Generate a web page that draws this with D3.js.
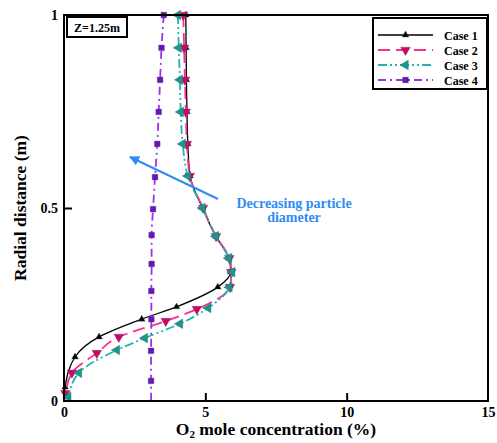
<!DOCTYPE html>
<html>
<head>
<script src="https://d3js.org/d3.v7.min.js"></script>
<style>
  body { margin: 0; background: #fff; }
  text { font-family: "Liberation Serif", "DejaVu Serif", serif; font-weight: bold; }
</style>
</head>
<body>
<svg id="chart" width="497" height="443"></svg>
<script>
// radial distance (m) and O2 concentration (%)
var case1R = [1, 0.915, 0.832, 0.749, 0.666, 0.583, 0.5, 0.427, 0.37, 0.334, 0.295, 0.244, 0.212, 0.166, 0.114, 0.036, 0];
var case1X = [4.31, 4.32, 4.33, 4.35, 4.38, 4.46, 4.9, 5.37, 5.83, 5.9, 5.44, 3.98, 2.75, 1.24, 0.39, 0.04, 0];

var case2R = [1, 0.915, 0.832, 0.749, 0.666, 0.583, 0.5, 0.427, 0.37, 0.334, 0.295, 0.238, 0.207, 0.166, 0.124, 0.073, 0.02, 0];
var case2X = [4.22, 4.25, 4.28, 4.31, 4.35, 4.45, 4.92, 5.38, 5.85, 5.92, 5.87, 4.7, 3.6, 1.94, 1.16, 0.28, 0.05, 0];

var case3R = [1, 0.915, 0.832, 0.749, 0.666, 0.583, 0.5, 0.427, 0.37, 0.334, 0.295, 0.241, 0.2, 0.163, 0.132, 0.073, 0.01];
var case3X = [4.03, 4.06, 4.1, 4.13, 4.2, 4.38, 4.9, 5.37, 5.83, 5.95, 5.85, 5.1, 4.1, 2.86, 1.87, 0.53, 0.15];

var case4R = [1, 0.915, 0.832, 0.749, 0.666, 0.58, 0.497, 0.43, 0.355, 0.285, 0.212, 0.13, 0.052, 0];
var case4X = [3.53, 3.45, 3.4, 3.35, 3.3, 3.22, 3.15, 3.1, 3.1, 3.09, 3.09, 3.08, 3.08, 3.08];

var caseNames = ["Case 1", "Case 2", "Case 3", "Case 4"];
var xTicks = [0, 5, 10, 15];
var yTicks = [0, 0.5, 1];

var svg = d3.select("#chart");
var mLeft = 64, mRight = 488, mTop = 15, mBottom = 401;

var x = d3.scaleLinear().domain([0, 15]).range([mLeft, mRight]);
var y = d3.scaleLinear().domain([0, 1]).range([mBottom, mTop]);

var series = [
  { name: caseNames[0], r: case1R, v: case1X, line: "#000", mark: "#000", dash: null, sym: "up", size: 20 },
  { name: caseNames[1], r: case2R, v: case2X, line: "#ff2d8f", mark: "#d6006b", dash: "12,6", sym: "down", size: 40 },
  { name: caseNames[2], r: case3R, v: case3X, line: "#22b5ad", mark: "#139a8e", dash: "9,3,2,3,2,3", sym: "left", size: 40 },
  { name: caseNames[3], r: case4R, v: case4X, line: "#9a33f0", mark: "#6a10c8", dash: "8,4,2,4", sym: "square", size: 32 }
];

function symbolPath(sym, size) {
  if (sym === "square") return d3.symbol().type(d3.symbolSquare).size(size)();
  return d3.symbol().type(d3.symbolTriangle).size(size)();
}
function symbolRotate(sym) {
  if (sym === "down") return 180;
  if (sym === "left") return -90;
  return 0;
}

var line = d3.line()
  .x(function(d) { return x(d[0]); })
  .y(function(d) { return y(d[1]); })
  .curve(d3.curveMonotoneY);

var plot = svg.append("g");

series.forEach(function(s) {
  var pts = s.v.map(function(v, i) { return [v, s.r[i]]; });
  plot.append("path")
    .attr("d", line(pts))
    .attr("fill", "none")
    .attr("stroke", s.line)
    .attr("stroke-width", s.dash ? 1.8 : 1.3)
    .attr("stroke-dasharray", s.dash);
  plot.selectAll(null)
    .data(pts.filter(function(d) { return d[1] > 0; }))
    .enter().append("path")
      .attr("d", symbolPath(s.sym, s.size))
      .attr("transform", function(d) { return "translate(" + x(d[0]) + "," + y(d[1]) + ") rotate(" + symbolRotate(s.sym) + ")"; })
      .attr("fill", s.mark)
      .attr("stroke", "#555")
      .attr("stroke-width", 0.4);
});

// frame and inward ticks
svg.append("rect")
  .attr("x", mLeft).attr("y", mTop)
  .attr("width", mRight - mLeft).attr("height", mBottom - mTop)
  .attr("fill", "none").attr("stroke", "#000").attr("stroke-width", 2);

var xAxis = svg.append("g").attr("transform", "translate(0," + mBottom + ")")
  .call(d3.axisBottom(x).tickValues(xTicks).tickSizeInner(-8).tickSizeOuter(0));
var yAxis = svg.append("g").attr("transform", "translate(" + mLeft + ",0)")
  .call(d3.axisLeft(y).tickValues(yTicks).tickSizeInner(-8).tickSizeOuter(0)
    .tickFormat(function(d) { return d === 0.5 ? "0.5" : d; }));
[xAxis, yAxis].forEach(function(a) {
  a.select(".domain").remove();
  a.selectAll("line").attr("stroke", "#000").attr("stroke-width", 2);
  a.selectAll("text").attr("font-size", 14).attr("fill", "#000")
    .style("font-family", "'Liberation Serif', serif").style("font-weight", "bold");
});
xAxis.selectAll("text").attr("y", 6);
yAxis.selectAll("text").attr("x", -6);
xAxis.selectAll(".tick").filter(function(d) { return d === 0 || d === 15; }).select("line").remove();
yAxis.selectAll(".tick").filter(function(d) { return d === 0 || d === 1; }).select("line").remove();

// axis titles
var xt = svg.append("text").attr("x", 276).attr("y", 435).attr("text-anchor", "middle").attr("font-size", 17.5);
xt.append("tspan").text("O");
xt.append("tspan").attr("font-size", 11).attr("dy", 3).text("2");
xt.append("tspan").attr("dy", -3).text(" mole concentration (%)");

svg.append("text")
  .attr("transform", "translate(26,208) rotate(-90)")
  .attr("text-anchor", "middle").attr("font-size", 17.5)
  .text("Radial distance (m)");

// Z label box
svg.append("rect").attr("x", 67).attr("y", 17).attr("width", 60).attr("height", 20)
  .attr("fill", "#fff").attr("stroke", "#000").attr("stroke-width", 2);
svg.append("text").attr("x", 97).attr("y", 32).attr("text-anchor", "middle").attr("font-size", 12).text("Z=1.25m");

// legend
var lg = svg.append("g");
lg.append("rect").attr("x", 373).attr("y", 18).attr("width", 114).attr("height", 71)
  .attr("fill", "#fff").attr("stroke", "#000").attr("stroke-width", 2);
var legendY = d3.scalePoint().domain(caseNames).range([35, 80]);
series.forEach(function(s) {
  var ly = legendY(s.name);
  lg.append("line").attr("x1", 378).attr("x2", 433).attr("y1", ly).attr("y2", ly)
    .attr("stroke", s.line).attr("stroke-width", s.dash ? 1.8 : 1.3).attr("stroke-dasharray", s.dash);
  lg.append("path").attr("d", symbolPath(s.sym, s.size))
    .attr("transform", "translate(405.5," + ly + ") rotate(" + symbolRotate(s.sym) + ")")
    .attr("fill", s.mark).attr("stroke", "#555").attr("stroke-width", 0.4);
  lg.append("text").attr("x", 444).attr("y", ly + 4.5).attr("font-size", 12).text(s.name);
});

// annotation arrow
var blue = "#2f8cf2";
svg.append("defs").append("marker")
  .attr("id", "head").attr("viewBox", "0 0 10 10").attr("refX", 9).attr("refY", 5)
  .attr("markerWidth", 5).attr("markerHeight", 5).attr("orient", "auto")
  .append("path").attr("d", "M0,0 L10,5 L0,10 z").attr("fill", blue);
svg.append("line").attr("x1", 218).attr("y1", 199).attr("x2", 130).attr("y2", 157)
  .attr("stroke", blue).attr("stroke-width", 2).attr("marker-end", "url(#head)");
svg.append("text").attr("x", 294).attr("y", 208).attr("text-anchor", "middle")
  .attr("font-size", 14).attr("fill", blue).text("Decreasing particle");
svg.append("text").attr("x", 294).attr("y", 222).attr("text-anchor", "middle")
  .attr("font-size", 14).attr("fill", blue).text("diameter");
</script>
</body>
</html>
